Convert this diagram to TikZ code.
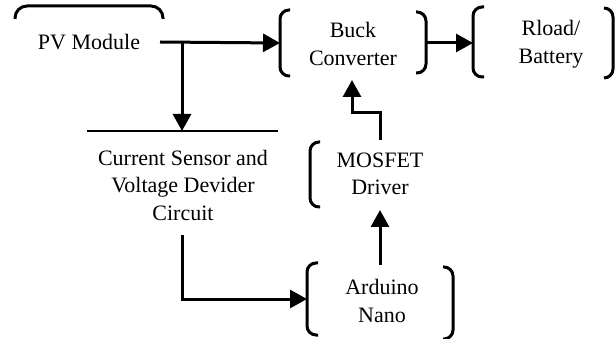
\documentclass[tikz,border=0pt]{standalone}
\usepackage{fontspec}
\setmainfont{Liberation Serif}
\newfontfamily\tnr{Liberation Serif}
\usetikzlibrary{arrows.meta}
\begin{document}
\begin{tikzpicture}[x=1pt,y=-1pt,
  lbl/.style={align=center,inner sep=0pt,font=\tnr\fontsize{22}{27.5}\selectfont},
  brk/.style={line width=3pt,rounded corners=9pt},
  conn/.style={line width=3pt,-{Triangle[length=17pt,width=18pt]}},
  plain/.style={line width=3pt}]
\useasboundingbox (0,0) rectangle (616,339);
% nodes
\node[lbl] (pv) at (89,42) {PV Module};
\node[lbl] (buck) at (353,44) {Buck\\Converter};
\node[lbl] (load) at (551,44) {Rload/\\Battery};
\node[lbl] (sensor) at (183,185) {Current Sensor and\\Voltage Devider\\Circuit};
\node[lbl] (mosfet) at (380,174) {MOSFET\\Driver};
\node[lbl] (ardu) at (382,301) {Arduino\\Nano};
% partial borders
\draw[brk,rounded corners=12pt] (15,19) -- (15,6) -- (163,6) -- (163,19);
\draw[brk] (290,10) -- (280,10) -- (280,76) -- (290,76);
\draw[brk] (416,12) -- (426,12) -- (426,73) -- (416,73);
\draw[brk] (484,7) -- (473,7) -- (473,77) -- (484,77);
\draw[brk] (604,8) -- (613,8) -- (613,78) -- (604,78);
\draw[brk] (320,142) -- (310,142) -- (310,207) -- (320,207);
\draw[brk] (318,263) -- (307,263) -- (307,335) -- (318,335);
\draw[brk] (443,267) -- (453,267) -- (453,339) -- (443,339);
\draw[line width=1.2pt] (87,131) -- (278,131);
% connector ends
\coordinate (pvR) at (160,42);
\coordinate (split) at (182,42);
\coordinate (sensTop) at (182,131);
\coordinate (buckL) at (280,43);
\coordinate (buckR) at (426,43);
\coordinate (loadL) at (473,43);
\coordinate (buckB) at (352,80);
\coordinate (mosT) at (380,140);
\coordinate (mosB) at (380,210);
\coordinate (arduT) at (380,265);
\coordinate (sensB) at (182,235);
\coordinate (arduL) at (307,299);
% connectors
\draw[conn] (pvR) -- (buckL);
\draw[conn] (split) -- (sensTop);
\draw[conn] (buckR) -- (loadL);
\draw[conn] (mosT) -- (380,113) -- (352,113) -- (buckB);
\draw[conn] (arduT) -- (mosB);
\draw[conn] (sensB) |- (arduL);
\end{tikzpicture}
\end{document}
